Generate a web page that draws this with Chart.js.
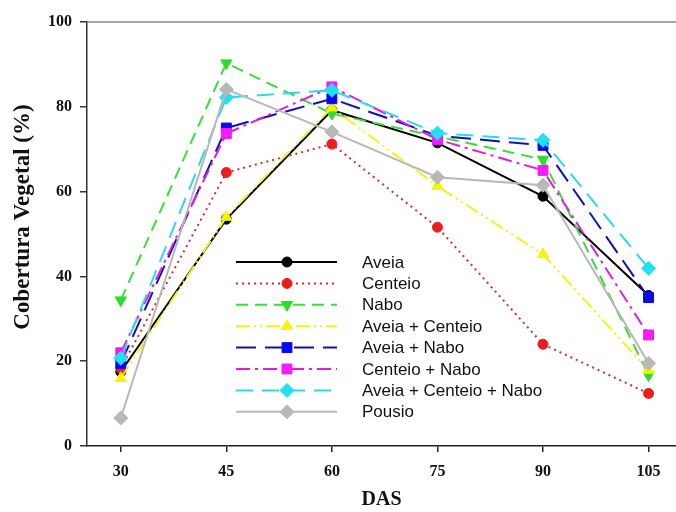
<!DOCTYPE html>
<html>
<head>
<meta charset="utf-8">
<script src="https://cdn.jsdelivr.net/npm/chart.js@4/dist/chart.umd.min.js"></script>
<style>
html,body{margin:0;padding:0;background:#fff;}
#wrap{width:676px;height:512px;}
</style>
</head>
<body>
<div id="wrap"><canvas id="c" width="676" height="512"></canvas></div>
<script>
// ---- data ----
const das = [30, 45, 60, 75, 90, 105];
const seriesNames = ["Aveia", "Centeio", "Nabo", "Aveia + Centeio", "Aveia + Nabo", "Centeio + Nabo", "Aveia + Centeio + Nabo", "Pousio"];
const aveia            = [17.5, 53.5, 79.2, 71.5, 58.9, 35.5];
const centeio          = [18.3, 64.5, 71.2, 51.6, 24.0, 12.4];
const nabo             = [34.4, 90.3, 78.4, 73.0, 67.6, 16.7];
const aveiaCenteio     = [16.0, 54.0, 79.8, 61.3, 45.2, 17.9];
const aveiaNabo        = [19.5, 75.0, 81.9, 73.2, 70.9, 35.0];
const centeioNabo      = [22.0, 73.7, 84.7, 72.3, 65.0, 26.2];
const aveiaCenteioNabo = [20.7, 82.2, 83.9, 73.8, 72.1, 41.9];
const pousio           = [6.6, 84.1, 74.1, 63.4, 61.5, 19.5];
const yTicks = [0, 20, 40, 60, 80, 100];
const xTicks = [30, 45, 60, 75, 90, 105];
const xTitle = 'DAS';
const yTitle = 'Cobertura Vegetal (%)';

// ---- styles ----
const styles = [
  {line:'#000000', fill:'#000000', dash:[],              style:'circle',   rot:0,   r:5},
  {line:'#c8322a', fill:'#ee1c1c', dash:[2,4],           style:'circle',   rot:0,   r:5},
  {line:'#3ddc3d', fill:'#2edc2e', dash:[12,7],          style:'triangle', rot:180, r:6.5},
  {line:'#f2f21a', fill:'#f5f500', dash:[14,4,2,4,2,4],  style:'triangle', rot:0,   r:6.5},
  {line:'#1010b4', fill:'#0a0aee', dash:[20,9],          style:'rect',     rot:0,   r:7},
  {line:'#e01ee0', fill:'#f51cf5', dash:[14,5,3,5],      style:'rect',     rot:0,   r:7},
  {line:'#2ed8ea', fill:'#1fe1f1', dash:[17,9],          style:'rectRot',  rot:0,   r:7},
  {line:'#b8b8b8', fill:'#b8b8b8', dash:[],              style:'rectRot',  rot:0,   r:7}
];
const allSeries = [aveia, centeio, nabo, aveiaCenteio, aveiaNabo, centeioNabo, aveiaCenteioNabo, pousio];

const datasets = allSeries.map((vals, i) => ({
  label: seriesNames[i],
  data: vals.map((v, k) => ({x: das[k], y: v})),
  borderColor: styles[i].line,
  backgroundColor: styles[i].fill,
  pointBackgroundColor: styles[i].fill,
  pointBorderColor: styles[i].fill,
  pointBorderWidth: 1,
  borderWidth: 2,
  borderDash: styles[i].dash,
  pointStyle: styles[i].style,
  pointRotation: styles[i].rot,
  pointRadius: styles[i].r,
  pointHoverRadius: styles[i].r,
  tension: 0,
  order: allSeries.length - i,
  clip: false
}));

const serif = "'Liberation Serif', 'Times New Roman', serif";

const framePlugin = {
  id: 'frame',
  afterDraw(chart) {
    const ctx = chart.ctx, a = chart.chartArea;
    ctx.save();
    ctx.strokeStyle = '#8a8a8a';
    ctx.lineWidth = 1.5;
    ctx.beginPath();
    ctx.moveTo(a.left, a.top);
    ctx.lineTo(a.right, a.top);
    ctx.stroke();
    // y-axis title (sits a little above the axis centre in the reference)
    ctx.translate(23, 217);
    ctx.rotate(-Math.PI / 2);
    ctx.fillStyle = '#111';
    ctx.font = "bold 23px " + serif;
    ctx.textAlign = 'center';
    ctx.textBaseline = 'middle';
    ctx.fillText(yTitle, 0, 0);
    ctx.restore();
  }
};

const legendPlugin = {
  id: 'customLegend',
  afterDraw(chart) {
    const ctx = chart.ctx;
    const x0 = 236, x1 = 337, xm = 287, xt = 362, y0 = 262, dy = 21.4;
    ctx.save();
    chart.data.datasets.forEach((ds, i) => {
      const y = y0 + i * dy;
      ctx.save();
      ctx.strokeStyle = ds.borderColor;
      ctx.lineWidth = ds.borderWidth;
      ctx.setLineDash(ds.borderDash);
      ctx.beginPath();
      ctx.moveTo(x0, y);
      ctx.lineTo(x1, y);
      ctx.stroke();
      ctx.setLineDash([]);
      ctx.fillStyle = ds.pointBackgroundColor;
      ctx.strokeStyle = ds.pointBorderColor;
      ctx.lineWidth = 1;
      Chart.helpers.drawPoint(ctx, {pointStyle: ds.pointStyle, rotation: ds.pointRotation, radius: ds.pointRadius, borderWidth: 1}, xm, y);
      ctx.restore();
      ctx.fillStyle = '#111';
      ctx.font = "17px 'Liberation Sans', Arial, sans-serif";
      ctx.textBaseline = 'middle';
      ctx.textAlign = 'left';
      ctx.fillText(ds.label, xt, y + 1);
    });
    ctx.restore();
  }
};

new Chart(document.getElementById('c'), {
  type: 'line',
  data: { datasets },
  plugins: [framePlugin, legendPlugin],
  options: {
    responsive: false,
    animation: false,
    devicePixelRatio: 1,
    layout: { autoPadding: false, padding: { top: 22, right: 0, left: 0, bottom: 0 } },
    plugins: { legend: { display: false }, tooltip: { enabled: false } },
    scales: {
      x: {
        type: 'linear',
        min: 25.2,
        max: 108.9,
        afterBuildTicks: (s) => { s.ticks = xTicks.map(v => ({value: v})); },
        afterFit: (s) => { s.height = 66; },
        border: { color: '#222', width: 1.5 },
        grid: { drawOnChartArea: false, tickLength: 6, color: '#222', lineWidth: 1.5 },
        ticks: { color: '#111', padding: 10, font: { family: serif, size: 16, weight: 'bold' }, maxRotation: 0 },
        title: { display: true, text: xTitle, color: '#111', font: { family: serif, size: 20, weight: 'bold' }, padding: { top: 0, bottom: 0 } }
      },
      y: {
        min: 0,
        max: 100,
        afterBuildTicks: (s) => { s.ticks = yTicks.map(v => ({value: v})); },
        afterFit: (s) => { s.width = 87; },
        border: { color: '#333', width: 1.5 },
        grid: { drawOnChartArea: false, tickLength: 7, color: '#333', lineWidth: 1.5 },
        ticks: { color: '#111', padding: 8, font: { family: serif, size: 16, weight: 'bold' } },
        title: { display: false }
      }
    }
  }
});
</script>
</body>
</html>
